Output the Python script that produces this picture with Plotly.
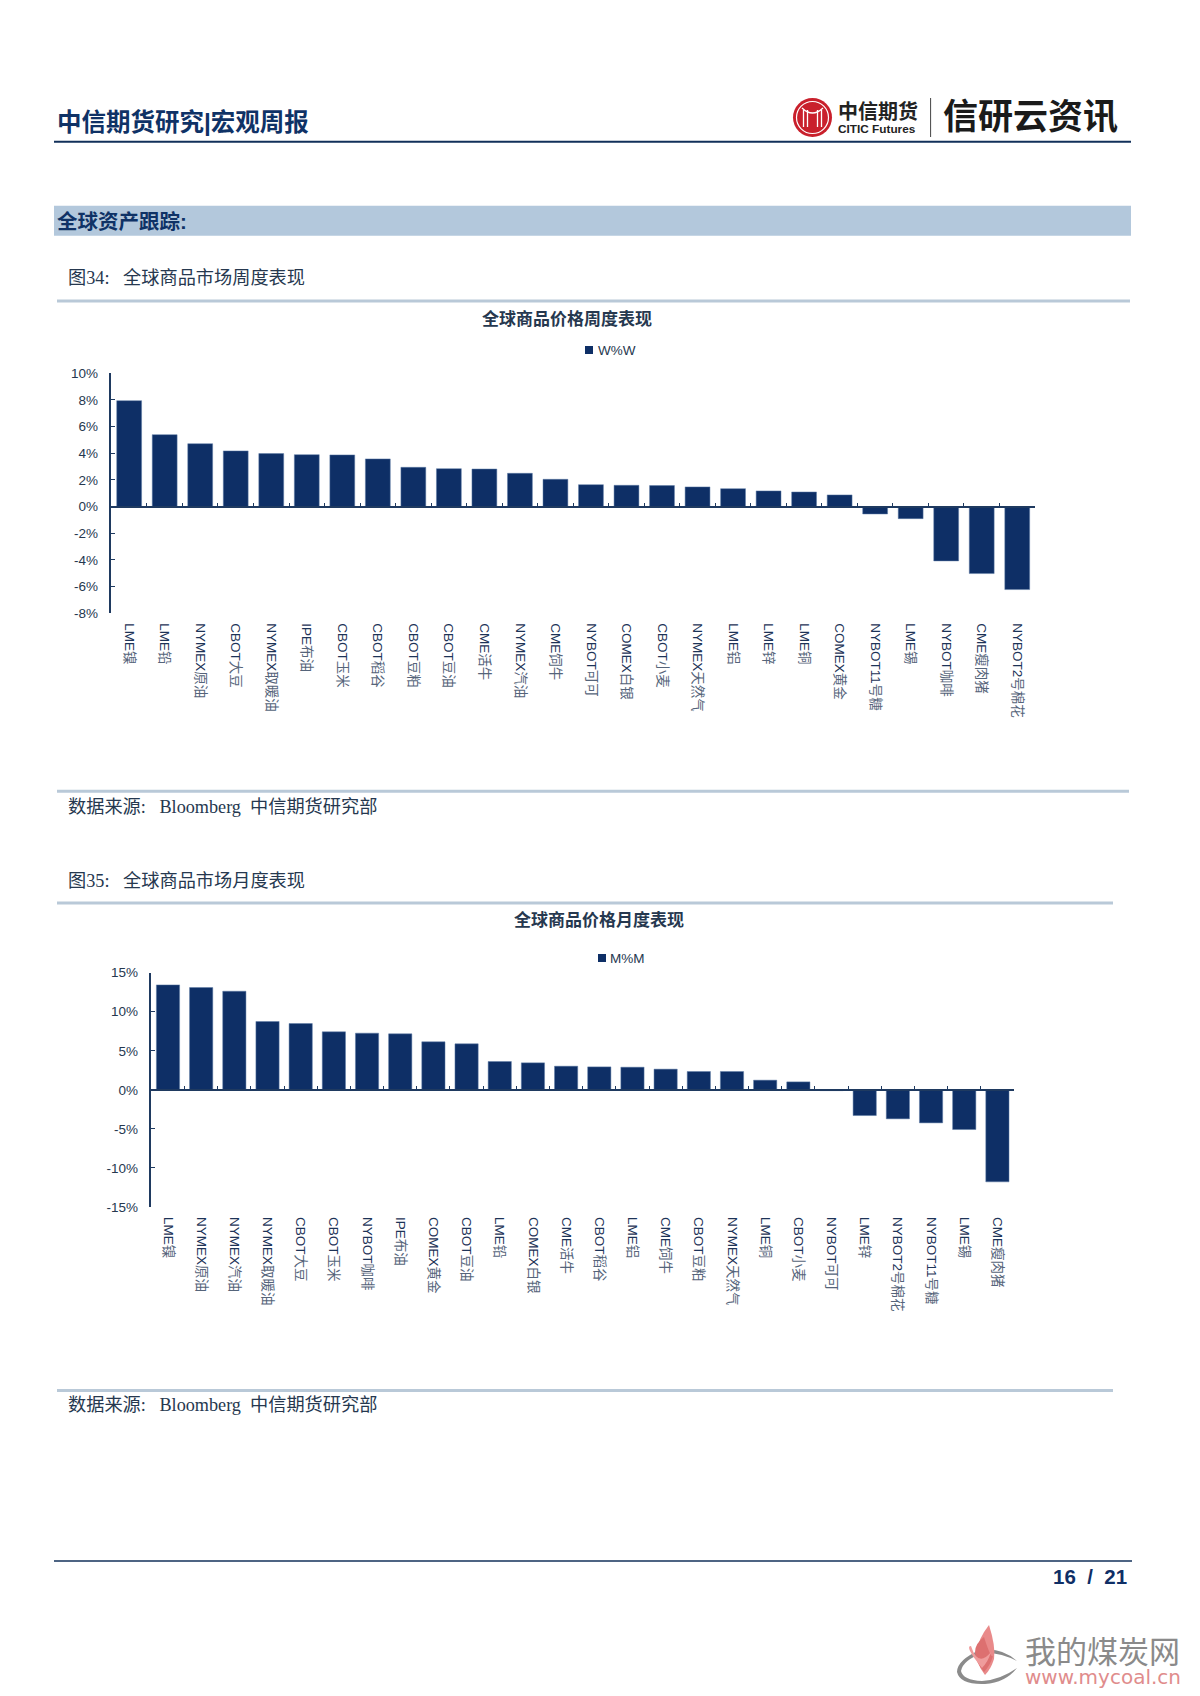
import re
import plotly.graph_objects as go

W, H = 1200, 1696

week_labels = ['LME镍', 'LME铅', 'NYMEX原油', 'CBOT大豆', 'NYMEX取暖油', 'IPE布油', 'CBOT玉米',
               'CBOT稻谷', 'CBOT豆粕', 'CBOT豆油', 'CME活牛', 'NYMEX汽油', 'CME饲牛', 'NYBOT可可',
               'COMEX白银', 'CBOT小麦', 'NYMEX天然气', 'LME铝', 'LME锌', 'LME铜', 'COMEX黄金',
               'NYBOT11号糖', 'LME锡', 'NYBOT咖啡', 'CME瘦肉猪', 'NYBOT2号棉花']
week_values = [7.95, 5.4, 4.72, 4.18, 3.98, 3.9, 3.88, 3.58, 2.95, 2.85, 2.82, 2.5, 2.05,
               1.65, 1.6, 1.58, 1.48, 1.35, 1.18, 1.1, 0.88, -0.55, -0.9, -4.07, -5.02, -6.22]
week_ticks = [10, 8, 6, 4, 2, 0, -2, -4, -6, -8]

month_labels = ['LME镍', 'NYMEX原油', 'NYMEX汽油', 'NYMEX取暖油', 'CBOT大豆', 'CBOT玉米', 'NYBOT咖啡',
                'IPE布油', 'COMEX黄金', 'CBOT豆油', 'LME铅', 'COMEX白银', 'CME活牛', 'CBOT稻谷',
                'LME铝', 'CME饲牛', 'CBOT豆粕', 'NYMEX天然气', 'LME铜', 'CBOT小麦', 'NYBOT可可',
                'LME锌', 'NYBOT2号棉花', 'NYBOT11号糖', 'LME锡', 'CME瘦肉猪']
month_values = [13.44, 13.1, 12.63, 8.75, 8.49, 7.43, 7.26, 7.17, 6.15, 5.89, 3.63, 3.46, 3.03,
                2.94, 2.9, 2.65, 2.35, 2.35, 1.24, 1.02, -0.1, -3.29, -3.71, -4.23, -5.08, -11.78]
month_ticks = [15, 10, 5, 0, -5, -10, -15]

NAVY = '#0e2f66'
AXIS = '#1f3a60'
TEXT = '#26384f'
RULE = '#b9c9d8'
SANS = 'Liberation Sans, Noto Sans CJK SC'
SERIF = 'Liberation Serif, Noto Sans CJK SC'
NB = '\u00a0'


def fx(x):
    return x / W


def fy(y):
    return 1 - y / H


def P(x, y):
    return f'{fx(x):.5f},{fy(y):.5f}'


def tick_text(label):
    # the cjk part of the labels is greyer than the latin part
    return re.sub(r'([^\x00-\x7f]+)', r'<span style="fill:#55647a">\1</span>', label)


fig = go.Figure()
shapes = []
notes = []


def note(x, y, text, size, color=TEXT, font=SANS, anchor='left', bold=False):
    notes.append(dict(xref='paper', yref='paper', x=fx(x), y=fy(y), text=f'<b>{text}</b>' if bold else text,
                      showarrow=False, xanchor=anchor, yanchor='middle',
                      font=dict(size=size, color=color, family=font)))


def rule(x0, x1, y, color, width):
    shapes.append(dict(type='line', xref='paper', yref='paper', x0=fx(x0), x1=fx(x1), y0=fy(y), y1=fy(y),
                       line=dict(color=color, width=width)))


def add_chart(n, labels, values, ticks, left, right, top, bottom):
    xa, ya, xb = ('x', 'y', 'x3') if n == 1 else ('x2', 'y2', 'x4')
    fig.add_trace(go.Bar(x=labels, y=values, xaxis=xa, yaxis=ya, width=0.7,
                         marker=dict(color=NAVY, line=dict(color='#5f7da6', width=0.5)), showlegend=False))
    lo, hi = min(ticks), max(ticks)
    zero = (1 - bottom / H) + (0 - lo) / (hi - lo) * (bottom - top) / H
    suf = '' if n == 1 else '2'
    fig.layout['xaxis' + suf] = dict(domain=[fx(left), fx(right)], anchor='y' + suf, type='category',
                                     categoryorder='array', categoryarray=labels,
                                     range=[-0.5, len(labels) - 0.5],
                                     tickmode='array', tickvals=labels, ticktext=[tick_text(s) for s in labels],
                                     tickangle=90, ticks='', showline=False, showgrid=False, ticklabelstandoff=9,
                                     tickfont=dict(size=13.5, family=SANS, color='#1d3357'))
    fig.layout['yaxis' + suf] = dict(domain=[fy(bottom), fy(top)], anchor='x' + suf, range=[lo, hi],
                                     tickmode='array', tickvals=ticks, ticktext=[f'{t}%' for t in ticks],
                                     ticks='inside', ticklen=4, tickcolor=AXIS, tickwidth=1.2,
                                     showline=True, linecolor=AXIS, linewidth=1.5, showgrid=False,
                                     zeroline=False, ticklabelstandoff=9,
                                     tickfont=dict(size=13.5, family=SANS, color=TEXT))
    # axis through zero, with its ticks standing between the bars
    fig.layout['xaxis' + str(int(n) + 2)] = dict(domain=[fx(left), fx(right)], overlaying=xa, anchor='free',
                                                 position=zero, range=[0, len(labels)], tick0=0, dtick=1,
                                                 ticks='inside', ticklen=3, tickcolor=AXIS, tickwidth=1.2,
                                                 showticklabels=False, showgrid=False, zeroline=False,
                                                 showline=True, linecolor=AXIS, linewidth=1.5)
    # empty trace keeps the zero axis alive
    fig.add_trace(go.Scatter(x=[], y=[], xaxis=xb, yaxis=ya, showlegend=False))


add_chart(1, week_labels, week_values, week_ticks, 111.4, 1035, 373.3, 613.3)
add_chart(2, month_labels, month_values, month_ticks, 151.4, 1014, 972.7, 1207)

# page header
note(55, 123, '中信期货研究|宏观周报', 24.5, color='#0f3266', bold=True)
rule(54, 1131, 141.7, '#12305a', 2)
note(941, 117, '信研云资讯', 35, color='#1a1a1a', bold=True)
shapes.append(dict(type='line', xref='paper', yref='paper', x0=fx(930.6), x1=fx(930.6), y0=fy(98), y1=fy(137),
                   line=dict(color='#444444', width=1)))
shapes.append(dict(type='circle', xref='paper', yref='paper', x0=fx(793), x1=fx(832), y0=fy(137), y1=fy(98),
                   fillcolor='#c9202c', line=dict(width=0)))
shapes.append(dict(type='circle', xref='paper', yref='paper', x0=fx(796.5), x1=fx(828.5), y0=fy(133.5), y1=fy(101.5),
                   line=dict(color='white', width=1.2)))
for dx in (-9, -5, 5, 9):
    shapes.append(dict(type='line', xref='paper', yref='paper', x0=fx(812.5 + dx), x1=fx(812.5 + dx), y0=fy(110), y1=fy(127),
                       line=dict(color='white', width=1.3)))
shapes.append(dict(type='path', xref='paper', yref='paper', line=dict(color='white', width=1.3),
                   path=f'M{P(802, 108)} Q{P(812.5, 118)} {P(823, 108)}'))
note(836, 111, '中信期货', 20, color='#222222', bold=True)
note(836, 129, 'CITIC Futures', 11.8, color='#222222', bold=True)

# section band
shapes.append(dict(type='rect', xref='paper', yref='paper', x0=fx(54), x1=fx(1131), y0=fy(235.7), y1=fy(205.7),
                   fillcolor='#b3c8dc', line=dict(width=0), layer='below'))
note(55, 221.5, '全球资产跟踪:', 20.5, color='#0f3266', bold=True)

# first chart frame
note(66, 278, f'图34:{NB}{NB}{NB}全球商品市场周度表现', 18.2, font=SERIF)
rule(57, 1130, 301, RULE, 3)
note(567, 319, '全球商品价格周度表现', 17, anchor='center', bold=True)
shapes.append(dict(type='rect', xref='paper', yref='paper', x0=fx(585), x1=fx(593), y0=fy(354), y1=fy(346),
                   fillcolor=NAVY, line=dict(width=0)))
note(596, 350, 'W%W', 13.5)
rule(57, 1129, 791.3, RULE, 3)
note(66, 807, f'数据来源:{NB}{NB}{NB}Bloomberg{NB}{NB}中信期货研究部', 18.2, font=SERIF)

# second chart frame
note(66, 881, f'图35:{NB}{NB}{NB}全球商品市场月度表现', 18.2, font=SERIF)
rule(57, 1113, 903, RULE, 3)
note(599, 920, '全球商品价格月度表现', 17, anchor='center', bold=True)
shapes.append(dict(type='rect', xref='paper', yref='paper', x0=fx(598), x1=fx(606), y0=fy(962), y1=fy(954),
                   fillcolor=NAVY, line=dict(width=0)))
note(608, 958, 'M%M', 13.5)
rule(57, 1113, 1390.5, RULE, 3)
note(66, 1404.5, f'数据来源:{NB}{NB}{NB}Bloomberg{NB}{NB}中信期货研究部', 18.2, font=SERIF)

# footer
rule(54, 1132, 1561, '#12305a', 1.5)
note(1129, 1576, f'16{NB}{NB}/{NB}{NB}21', 20.5, color='#0f2f66', anchor='right', bold=True)

# watermark
shapes.append(dict(type='path', xref='paper', yref='paper', line=dict(width=0), fillcolor='#8b8b8b',
                   path=f'M{P(1017, 1661)} Q{P(1002, 1647)} {P(980, 1650)} Q{P(957, 1660)} {P(957, 1672)} '
                        f'Q{P(960, 1685)} {P(985, 1684)} Q{P(1005, 1683)} {P(1017, 1668)} '
                        f'Q{P(1000, 1680)} {P(982, 1681)} Q{P(963, 1680)} {P(961, 1671)} '
                        f'Q{P(963, 1660)} {P(983, 1653)} Q{P(1000, 1652)} {P(1017, 1661)} Z'))
for tip, base, c in [((989, 1625), (985, 1675), '#e98a8a'), ((984, 1637), (984, 1672), '#dd7070'),
                     ((971, 1646), (982, 1668), '#ef9c9c')]:
    shapes.append(dict(type='path', xref='paper', yref='paper', line=dict(width=0), fillcolor=c,
                       path=f'M{P(*base)} Q{P(base[0] - 18, base[1] - 22)} {P(*tip)} '
                            f'Q{P(tip[0] + 7, tip[1] + 22)} {P(base[0] + 9, base[1] - 16)} Q{P(base[0] + 6, base[1] - 6)} {P(*base)} Z'))
note(1023, 1652, '我的煤炭网', 31, color='#8a8a8a')
note(1023, 1677, 'www.mycoal.cn', 20, color='#e08c8c', font='DejaVu Sans')

fig.update_layout(width=W, height=H, margin=dict(l=0, r=0, t=0, b=0, autoexpand=False), paper_bgcolor='white',
                  plot_bgcolor='rgba(0,0,0,0)', shapes=shapes, annotations=notes, showlegend=False, hovermode=False)

fig.write_html('out.html', config=dict(displayModeBar=False), post_script="document.body.style.margin='0'")
